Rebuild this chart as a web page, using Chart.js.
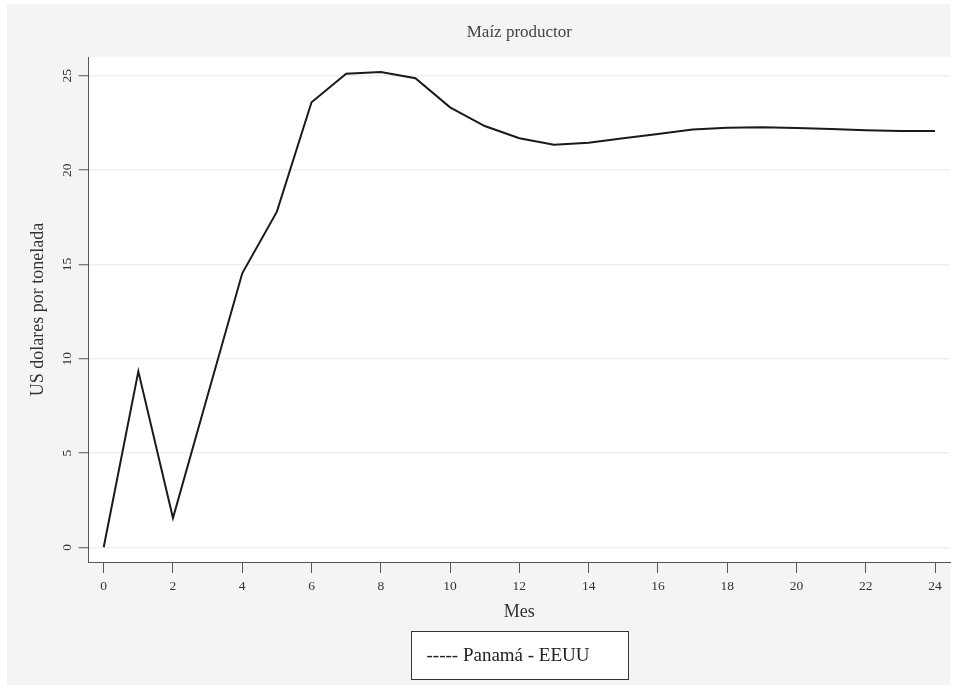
<!DOCTYPE html>
<html>
<head>
<meta charset="utf-8">
<script src="https://cdn.jsdelivr.net/npm/chart.js@4/dist/chart.umd.min.js"></script>
<style>
  html, body { margin: 0; padding: 0; background: #ffffff; }
  #wrap { position: relative; width: 961px; height: 685px; }
</style>
</head>
<body>
<div id="wrap"><canvas id="grafico"></canvas></div>
<script>
// Meses y precio (US$ por tonelada), serie Panamá - EEUU
const meses = [0, 1, 2, 3, 4, 5, 6, 7, 8, 9, 10, 11, 12, 13, 14, 15, 16, 17, 18, 19, 20, 21, 22, 23, 24];
const panamaEeuu = [0, 9.33, 1.55, 8.05, 14.53, 17.8, 23.6, 25.11, 25.2, 24.87, 23.33, 22.34, 21.69,
  21.35, 21.45, 21.69, 21.92, 22.15, 22.25, 22.27, 22.23, 22.18, 22.12, 22.08, 22.08];
const ticksX = [0, 2, 4, 6, 8, 10, 12, 14, 16, 18, 20, 22, 24];
const ticksY = [0, 5, 10, 15, 20, 25];

const serif = "'Liberation Serif', 'Times New Roman', serif";

// fondo gris del gráfico y área de trazado blanca
const fondo = {
  id: "fondo",
  beforeDraw(chart) {
    const { ctx, chartArea: a } = chart;
    ctx.save();
    ctx.fillStyle = "#f4f4f4";
    ctx.fillRect(7, 4, 943, 681);
    ctx.fillStyle = "#ffffff";
    ctx.fillRect(a.left, a.top, a.right - a.left, a.bottom - a.top);
    ctx.restore();
  }
};

// leyenda con marco, centrada bajo el área de trazado
const leyenda = {
  id: "leyenda",
  afterDraw(chart) {
    const { ctx, chartArea: a } = chart;
    const cx = (a.left + a.right) / 2;
    const x0 = Math.round(cx - 108.5) + 0.5;
    ctx.save();
    ctx.fillStyle = "#ffffff";
    ctx.fillRect(x0, 631.5, 217, 48);
    ctx.strokeStyle = "#333333";
    ctx.lineWidth = 1;
    ctx.strokeRect(x0, 631.5, 217, 48);
    ctx.fillStyle = "#222222";
    ctx.font = "19px " + serif;
    ctx.textBaseline = "middle";
    ctx.fillText("----- " + chart.data.datasets[0].label, x0 + 15, 656);
    ctx.restore();
  }
};

new Chart(document.getElementById("grafico"), {
  type: "line",
  data: {
    datasets: [{
      label: "Panamá - EEUU",
      data: meses.map((m, i) => ({ x: m, y: panamaEeuu[i] })),
      borderColor: "#1a1a1a",
      borderWidth: 2,
      pointRadius: 0,
      tension: 0,
      fill: false
    }]
  },
  options: {
    responsive: true,
    maintainAspectRatio: false,
    animation: false,
    layout: { padding: { left: 7, top: 4, right: 11, bottom: 0 } },
    plugins: {
      legend: { display: false },
      tooltip: { enabled: false },
      title: {
        display: true,
        text: "Maíz productor",
        fullSize: false,
        color: "#444444",
        font: { family: serif, size: 17, weight: "normal" },
        padding: { top: 18.8, bottom: 13.8 }
      }
    },
    scales: {
      x: {
        type: "linear",
        min: -0.433,
        max: 24.433,
        afterBuildTicks: s => { s.ticks = ticksX.map(v => ({ value: v })); },
        afterFit: s => { s.height = 123; },
        grid: { drawOnChartArea: false, drawTicks: true, tickLength: 11, tickColor: "#555555", tickWidth: 1 },
        border: { display: true, color: "#555555", width: 1 },
        ticks: { color: "#333333", font: { family: serif, size: 13.5 }, padding: 5.5, maxRotation: 0 },
        title: {
          display: true,
          text: "Mes",
          color: "#333333",
          font: { family: serif, size: 18 },
          padding: { top: 0, bottom: 61.7 }
        }
      },
      y: {
        type: "linear",
        min: -0.78,
        max: 26.0,
        afterBuildTicks: s => { s.ticks = ticksY.map(v => ({ value: v })); },
        afterFit: s => { s.width = 81.7; },
        grid: { color: "#efefef", lineWidth: 1.5, drawTicks: true, tickLength: 10, tickColor: "#555555", tickWidth: 1 },
        border: { display: true, color: "#555555", width: 1 },
        ticks: {
          color: "#333333",
          font: { family: serif, size: 13.5 },
          minRotation: 90,
          maxRotation: 90,
          crossAlign: "center",
          padding: 4.3
        },
        title: {
          display: true,
          text: "US dolares por tonelada",
          color: "#333333",
          font: { family: serif, size: 18 },
          padding: { top: 20.7, bottom: 0 }
        }
      }
    }
  },
  plugins: [fondo, leyenda]
});
</script>
</body>
</html>
